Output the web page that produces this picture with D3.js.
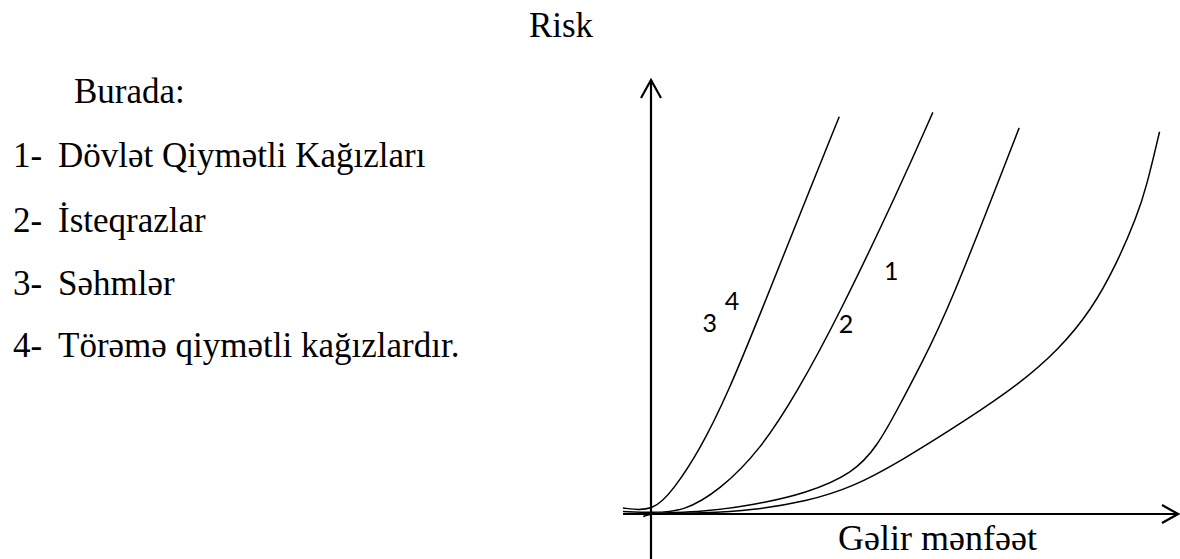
<!DOCTYPE html>
<html>
<head>
<meta charset="utf-8">
<script src="https://cdn.jsdelivr.net/npm/d3@7"></script>
<style>
  body { margin: 0; background: #fff; }
  #canvas svg { display: block; }
</style>
</head>
<body>
<div id="canvas"></div>
<script>
"use strict"

/* curve data: [gelir, risk] pairs (0..100 units) */
let curve34 = [[-5.4, 1.4], [0.4, 0.5], [4.3, 5.6], [9.4, 14.9], [14.8, 28.1],
  [21.3, 47.4], [28.7, 69.9], [36.2, 92.4]];
let curve2 = [[-5.4, 0.6], [0, 0.3], [6.2, 0.5], [13.3, 5.6], [21.0, 14.9],
  [28.0, 28.1], [36.0, 45.9], [47.9, 76.1], [54.2, 93.4]];
let curve1 = [[-1.5, -0.6], [0, 0.2], [10, 0.5], [19.7, 2.1], [29.9, 4.8],
  [38.9, 9.5], [43.5, 15.7], [47.7, 25.0], [51.7, 34.3], [57.2, 47.4], [70.8, 89.8]];
let curveLast = [[0, 0], [10, 0.2], [19.6, 0.9], [29.9, 2.9], [38.9, 6.3],
  [47.9, 12.2], [60.7, 21.9], [71.0, 30.4], [78.3, 38.1], [84.7, 47.4],
  [89.6, 58.3], [93.4, 69.1], [95.3, 76.1], [97.8, 88.9]];

/* curve numbers and where they sit (data units) */
let curveLabels = ["3", "4", "2", "1"];
let labelX = [11.3, 15.6, 37.5, 46.2];
let labelY = [44.7, 49.8, 44.4, 56.7];

/* legend text */
let legendTitle = "Burada:";
let legendNums = ["1-", "2-", "3-", "4-"];
let legendItems = ["Dövlət Qiymətli Kağızları", "İsteqrazlar", "Səhmlər",
  "Törəmə qiymətli kağızlardır."];

let drawing = d3.select("#canvas")
  .append("svg")
  .attr("width", 1180)
  .attr("height", 559);

let x = d3.scaleLinear().domain([0, 100]).range([651, 1171]);
let y = d3.scaleLinear().domain([0, 100]).range([514, 84]);

let serif = "'Liberation Serif', 'Times New Roman', serif";

/* ---------- title + legend ---------- */
drawing.append("text")
  .attr("x", 561).attr("y", 37)
  .attr("text-anchor", "middle")
  .attr("font-family", serif).attr("font-size", 35)
  .text("Risk");

drawing.append("text")
  .attr("x", 74).attr("y", 103)
  .attr("font-family", serif).attr("font-size", 35)
  .text(legendTitle);

let rowY = [167, 232, 295, 357];

drawing.selectAll(".num")
  .data(legendNums)
  .join("text")
  .attr("class", "num")
  .attr("x", 13).attr("y", (d, i) => rowY[i])
  .attr("font-family", serif).attr("font-size", 35)
  .text(d => d);

drawing.selectAll(".item")
  .data(legendItems)
  .join("text")
  .attr("class", "item")
  .attr("x", 58).attr("y", (d, i) => rowY[i])
  .attr("font-family", serif).attr("font-size", 35)
  .text(d => d);

/* ---------- axes ---------- */
let axisG = drawing.append("g")
  .attr("stroke", "black").attr("stroke-width", 2.2).attr("fill", "none");

axisG.append("line")
  .attr("x1", x(0)).attr("y1", 559)
  .attr("x2", x(0)).attr("y2", 80);
axisG.append("polyline")
  .attr("points", [[x(0) - 10, 98], [x(0), 80], [x(0) + 10, 98]].join(" "));

axisG.append("line")
  .attr("x1", 623).attr("y1", y(0))
  .attr("x2", 1178).attr("y2", y(0));
axisG.append("polyline")
  .attr("points", [[1162, y(0) - 9], [1178, y(0)], [1162, y(0) + 9]].join(" "));

drawing.append("text")
  .attr("x", 838).attr("y", 550)
  .attr("font-family", serif).attr("font-size", 36)
  .text("Gəlir mənfəət");

/* ---------- curves ---------- */
let line = d3.line()
  .x(d => x(d[0]))
  .y(d => y(d[1]))
  .curve(d3.curveBasis);

drawing.selectAll(".curve")
  .data([curve34, curve2, curve1, curveLast])
  .join("path")
  .attr("class", "curve")
  .attr("d", line)
  .attr("fill", "none")
  .attr("stroke", "black")
  .attr("stroke-width", 1.5);

drawing.selectAll(".clabel")
  .data(curveLabels)
  .join("text")
  .attr("class", "clabel")
  .attr("x", (d, i) => x(labelX[i]))
  .attr("y", (d, i) => y(labelY[i]))
  .attr("text-anchor", "middle")
  .attr("dominant-baseline", "central")
  .attr("font-family", "Lato, 'Open Sans', sans-serif")
  .attr("font-size", 25)
  .text(d => d);
</script>
</body>
</html>
